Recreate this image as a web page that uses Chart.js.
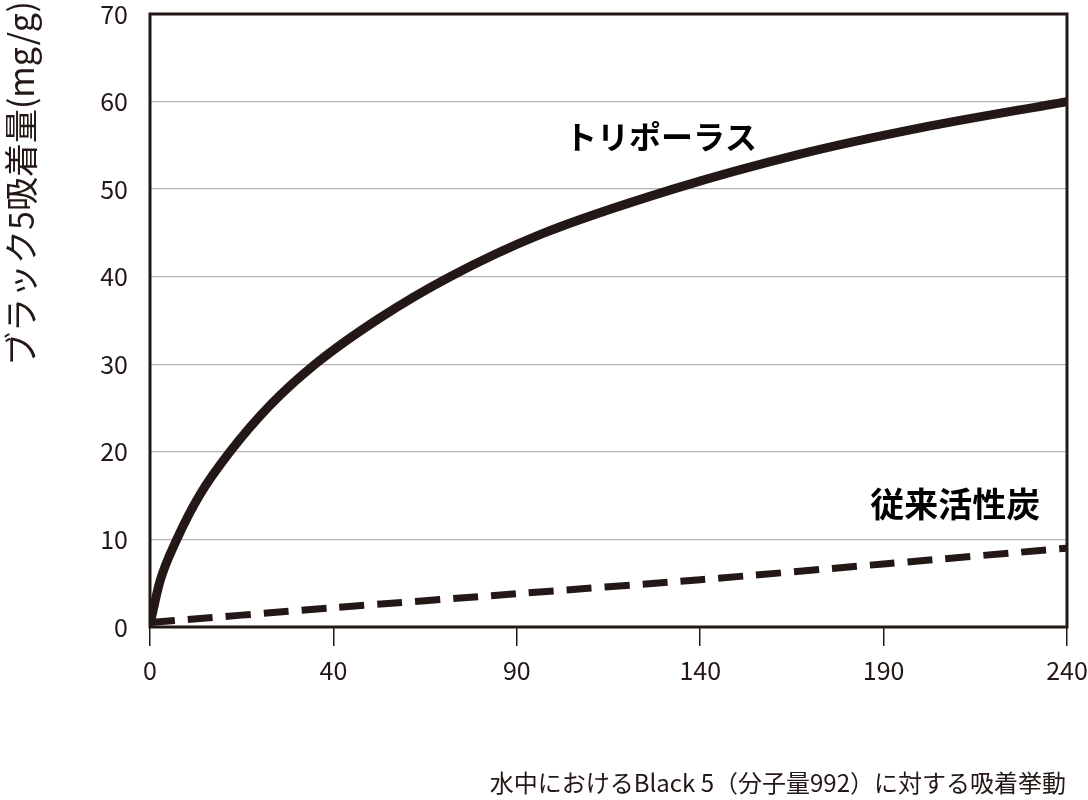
<!DOCTYPE html>
<html>
<head>
<meta charset="utf-8">
<script src="https://cdn.jsdelivr.net/npm/chart.js@4.4.1/dist/chart.umd.min.js"></script>
<style>
  html, body { margin: 0; padding: 0; background: #ffffff; }
  #wrap { width: 1088px; height: 800px; position: relative; }
</style>
</head>
<body>
<div id="wrap"><canvas id="c" width="1088" height="800"></canvas></div>
<script>
// ---- data (x positions on evenly spaced axis units, 50 units per labelled interval) ----
const xTickLabels = ['0', '40', '90', '140', '190', '240'];
const yTickValues = [0, 10, 20, 30, 40, 50, 60, 70];

const triporousX = [0, 2.7, 7.3, 13.6, 21.8, 32.7, 45, 62.7, 81.8, 106.3, 142.6, 177.2, 210, 250];
const triporousY = [0.3, 5.2, 10, 15.1, 20, 25.3, 30, 35.3, 40, 44.8, 50, 54.0, 57.0, 60];

const carbonX = [0, 50, 100, 150, 200, 250];
const carbonY = [0.5, 2.2, 3.8, 5.4, 7.2, 9.0];

const seriesNames = ['トリポーラス', '従来活性炭'];
const yTitle = 'ブラック5吸着量(mg/g)';
const footnote = '水中におけるBlack 5（分子量992）に対する吸着挙動';

const INK = '#231815';
const FONT = '"Noto Sans CJK JP", "Noto Sans", sans-serif';

function toPoints(xs, ys) { return xs.map((x, i) => ({ x: x, y: ys[i] })); }

const annotate = {
  id: 'annotate',
  afterDatasetsDraw(chart) {
    const { ctx, chartArea: a, scales } = chart;
    ctx.save();
    // frame
    ctx.strokeStyle = INK;
    ctx.lineWidth = 3;
    ctx.strokeRect(a.left, a.top, a.right - a.left, a.bottom - a.top);
    // series labels
    ctx.fillStyle = '#000';
    ctx.textBaseline = 'middle';
    ctx.textAlign = 'center';
    ctx.font = 'bold 32px ' + FONT;
    ctx.fillText(seriesNames[0], scales.x.getPixelForValue(139.3), scales.y.getPixelForValue(56.0));
    ctx.font = 'bold 34px ' + FONT;
    ctx.fillText(seriesNames[1], scales.x.getPixelForValue(219.5), scales.y.getPixelForValue(14.0));
    // y axis title
    ctx.save();
    ctx.translate(21, 1);
    ctx.rotate(-Math.PI / 2);
    ctx.textAlign = 'right';
    ctx.textBaseline = 'middle';
    ctx.font = '34px ' + FONT;
    ctx.fillStyle = INK;
    ctx.fillText(yTitle, 0, 0);
    ctx.restore();
    // footnote
    ctx.textAlign = 'right';
    ctx.textBaseline = 'middle';
    ctx.font = '24px ' + FONT;
    ctx.fillStyle = INK;
    ctx.fillText(footnote, 1066, 783);
    ctx.restore();
  }
};

new Chart(document.getElementById('c'), {
  type: 'line',
  data: {
    datasets: [
      {
        label: seriesNames[0],
        data: toPoints(triporousX, triporousY),
        borderColor: INK,
        borderWidth: 9,
        pointRadius: 0,
        cubicInterpolationMode: 'monotone',
        fill: false
      },
      {
        label: seriesNames[1],
        data: toPoints(carbonX, carbonY),
        borderColor: INK,
        borderWidth: 7,
        borderDash: [25, 13],
        borderCapStyle: 'butt',
        pointRadius: 0,
        tension: 0.3,
        fill: false
      }
    ]
  },
  options: {
    responsive: false,
    animation: false,
    devicePixelRatio: 1,
    layout: { padding: { top: 14, right: 21, left: 0, bottom: 0 } },
    plugins: { legend: { display: false }, tooltip: { enabled: false }, title: { display: false } },
    scales: {
      x: {
        type: 'linear',
        min: 0,
        max: 250,
        afterBuildTicks(scale) { scale.ticks = xTickLabels.map((_, i) => ({ value: i * 50 })); },
        afterFit(scale) { scale.height = 173; scale.paddingLeft = 0; scale.paddingRight = 0; },
        ticks: {
          callback: (v) => xTickLabels[Math.round(v / 50)],
          color: INK,
          font: { family: FONT, size: 25 },
          padding: 9,
          maxRotation: 0
        },
        grid: { drawOnChartArea: false, drawTicks: true, tickLength: 19, color: INK, lineWidth: 1.5 },
        border: { display: false }
      },
      y: {
        type: 'linear',
        min: 0,
        max: 70,
        afterBuildTicks(scale) { scale.ticks = yTickValues.map(v => ({ value: v })); },
        afterFit(scale) { scale.width = 150; scale.paddingTop = 0; scale.paddingBottom = 0; },
        ticks: {
          color: INK,
          font: { family: FONT, size: 25 },
          padding: 22
        },
        grid: {
          drawTicks: false,
          color: (c) => (c.tick && (c.tick.value === 0 || c.tick.value === 70)) ? 'rgba(0,0,0,0)' : '#b4b4b4',
          lineWidth: 1.3
        },
        border: { display: false }
      }
    }
  },
  plugins: [annotate]
});
</script>
</body>
</html>
